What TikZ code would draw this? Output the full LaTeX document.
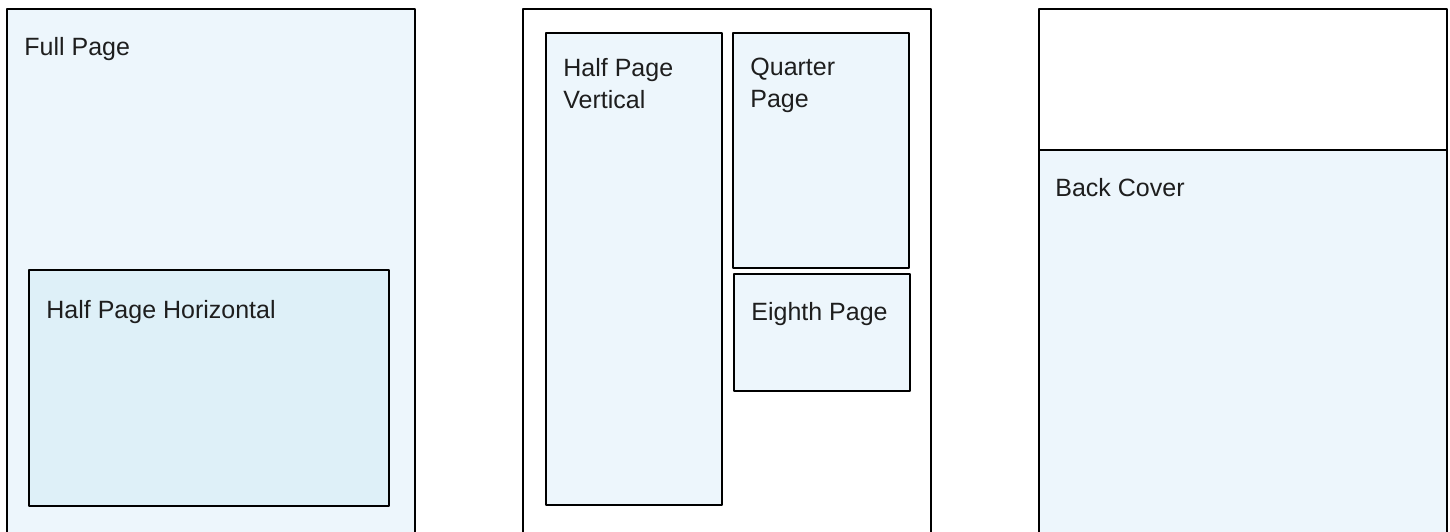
\documentclass[tikz,border=0pt]{standalone}
\usepackage{fontspec}
\setmainfont{Liberation Sans}
\usetikzlibrary{positioning}
\definecolor{paleblue}{RGB}{237,246,252}
\definecolor{deepblue}{RGB}{222,240,248}
\definecolor{inkgrey}{RGB}{30,30,30}
\tikzset{
  sheet/.style={draw=black, line width=0.55pt},
  adbox/.style={draw=black, line width=0.55pt, fill=paleblue},
  adtext/.style={inner sep=0pt, anchor=base west, text=inkgrey, font=\fontsize{12.5}{16}\selectfont},
  adtexttwo/.style={inner sep=0pt, anchor=north west, align=left, text=inkgrey, font=\fontsize{12.5}{16}\selectfont}
}
\begin{document}
\begin{tikzpicture}[x=0.5pt, y=-0.5pt, line join=round]
    \useasboundingbox (0,0) rectangle (1450,531);
    % full page layout
    \draw [adbox] (7,9) rectangle (415,545);
    \draw [adbox, fill=deepblue] (29,270) rectangle (389,506);
    \node [adtext] (full) at (24,55) {Full Page};
    \node [adtext] (halfh) at (46,318) {Half Page Horizontal};

    % split layout
    \draw [sheet, fill=white] (523,9) rectangle (931,545);
    \draw [adbox] (546,33) rectangle (722,505);
    \draw [adbox] (733,33) rectangle (909,268);
    \draw [adbox] (734,274) rectangle (910,391);
    \node [adtexttwo] (halfv) at (563,58) {Half Page\\Vertical};
    \node [adtexttwo] (quarter) at (750,58) {Quarter\\Page};
    \node [adtext] (eighth) at (751,320) {Eighth Page};

    % back cover layout
    \draw [sheet, fill=white] (1039,9) rectangle (1447,545);
    \draw [adbox] (1039,150) rectangle (1447,545);
    \node [adtext] (back) at (1055,196) {Back Cover};
\end{tikzpicture}
\end{document}
